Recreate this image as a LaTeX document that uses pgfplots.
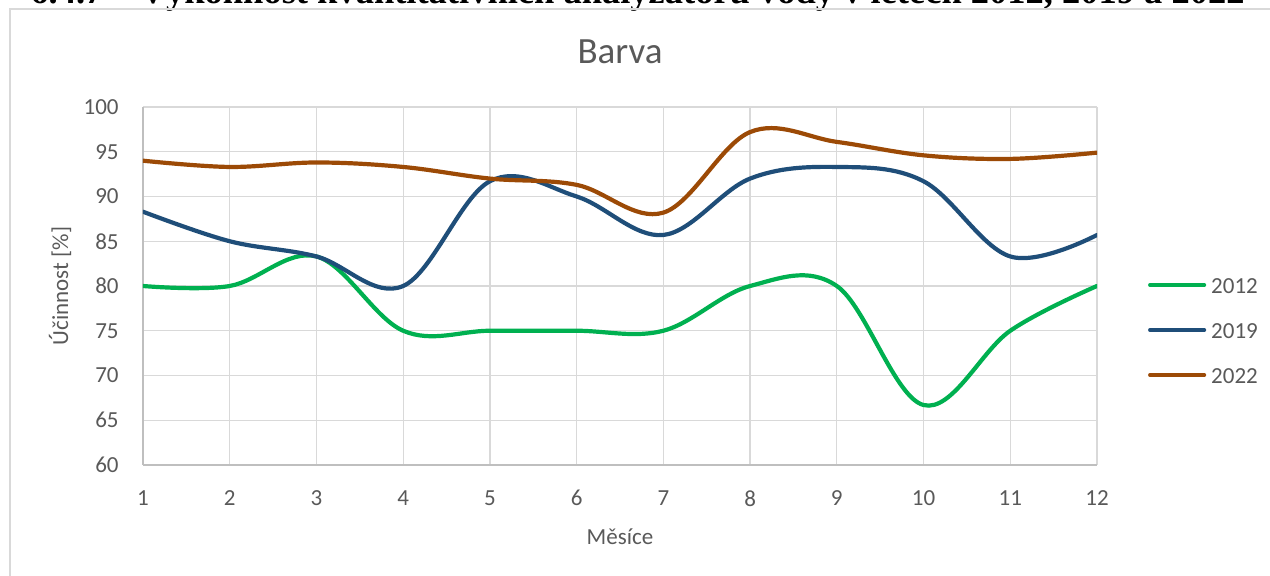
\documentclass[border=0pt]{standalone}
\usepackage{pgfplots}
\pgfplotsset{compat=1.18}
\usepackage{fontspec}
\setmainfont{Carlito}
\newfontfamily\captionfont{Liberation Serif}
\definecolor{c2012}{HTML}{00B050}
\definecolor{c2019}{HTML}{1F4E79}
\definecolor{c2022}{HTML}{9C4A06}
\definecolor{textgray}{HTML}{595959}
\definecolor{gridgray}{HTML}{D9D9D9}
\definecolor{axisgray}{HTML}{BFBFBF}
\definecolor{framegray}{HTML}{D9D9D9}
\begin{document}
\begin{tikzpicture}[x=1pt,y=1pt]
\useasboundingbox (0,0) rectangle (635,288);
\clip (0,0) rectangle (635,288);
\node[anchor=base west, inner sep=0pt] at (15,286.3) {\resizebox{607pt}{!}{\captionfont\bfseries 6.4.7\quad Výkonnost kvantitativních analyzátorů vody v letech 2012, 2019 a 2022}};
\draw[framegray, line width=0.6pt] (5,-5) rectangle (700,283.5);
\begin{axis}[
  at={(71.5pt,55.5pt)}, anchor=south west,
  scale only axis, width=477pt, height=179pt,
  xmin=1, xmax=12, ymin=60, ymax=100,
  xtick={1,...,12}, ytick={60,65,...,100},
  major tick length=0pt,
  grid=major,
  grid style={gridgray, line width=0.6pt},
  axis lines*=left,
  axis line style={axisgray, line width=0.6pt, -},
  tick label style={font=\fontsize{11.5}{13}\selectfont, text=textgray, inner sep=0pt},
  yticklabel style={anchor=east, xshift=-12pt},
  xticklabel style={anchor=north, yshift=-12.5pt},
  /pgf/number format/assume math mode=true,
  title={Barva},
  title style={at={(axis description cs:0.5,1)}, anchor=center, yshift=21.5pt, font=\fontsize{18.5}{20}\selectfont, text=textgray},
  xlabel={Měsíce},
  xlabel style={at={(axis description cs:0.5,-0.201)}, anchor=center, font=\fontsize{11.5}{13}\selectfont, text=textgray},
  ylabel={Účinnost [\%]},
  ylabel style={at={(axis description cs:-0.087,0.5)}, anchor=center, font=\fontsize{11.5}{13}\selectfont, text=textgray},
  legend style={at={(axis description cs:1.0535,0.377)}, anchor=west, draw=none, fill=none,
    inner sep=0pt, outer sep=0pt, row sep=14.5pt, column sep=2.5pt,
    font=\fontsize{11.5}{13}\selectfont, text=textgray,
    nodes={inner sep=0pt, text height=8pt, text depth=0pt}},
  legend cell align=left,
  legend image code/.code={\draw[#1] (0pt,0pt) -- (27pt,0pt);},
  every axis plot/.append style={line width=2.1pt, smooth, tension=0.6, line cap=round},
]
\addplot[c2012] coordinates {(1,80) (2,80) (3,83.3) (4,75) (5,75) (6,75) (7,75) (8,80) (9,80) (10,66.7) (11,75) (12,80)};
\addlegendentry{2012}
\addplot[c2019] coordinates {(1,88.3) (2,85) (3,83.3) (4,80) (5,91.7) (6,90) (7,85.7) (8,92) (9,93.3) (10,91.7) (11,83.3) (12,85.7)};
\addlegendentry{2019}
\addplot[c2022] coordinates {(1,94) (2,93.3) (3,93.8) (4,93.3) (5,92) (6,91.3) (7,88.2) (8,97.2) (9,96.1) (10,94.6) (11,94.2) (12,94.9)};
\addlegendentry{2022}
\end{axis}
\end{tikzpicture}
\end{document}
